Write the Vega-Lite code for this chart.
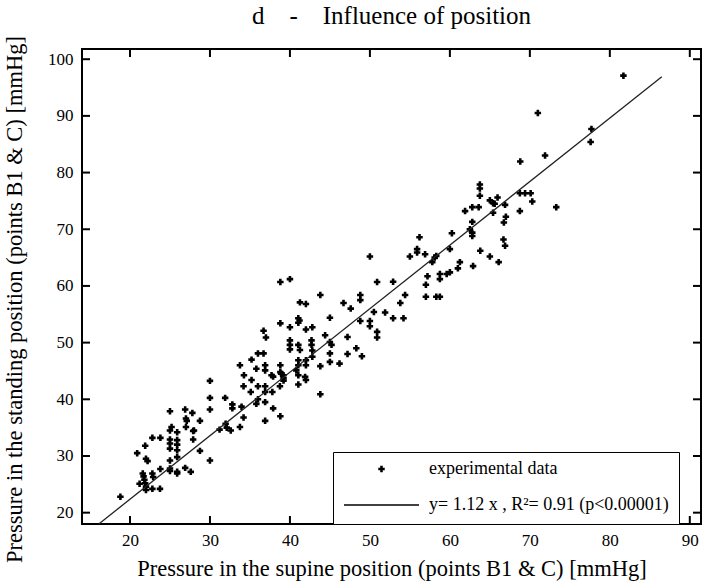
{
  "$schema": "https://vega.github.io/schema/vega-lite/v6.json",
  "width": 619,
  "height": 475,
  "autosize": "none",
  "padding": {"left": 82, "top": 49, "right": 7, "bottom": 57},
  "background": "white",
  "title": {"text": "d\u00a0\u00a0\u00a0\u00a0-\u00a0\u00a0\u00a0\u00a0Influence of position", "font": "Liberation Serif", "fontSize": 25, "fontWeight": "normal", "color": "black", "offset": 7, "anchor": "middle"},
  "config": {
    "view": {"stroke": "black", "strokeWidth": 2},
    "axis": {"domain": false, "grid": false, "ticks": false, "tickSize": 0, "offset": 0, "labelFont": "Liberation Serif", "labelFontSize": 17, "labelColor": "black", "titleFont": "Liberation Serif", "titleFontSize": 22.5, "titleFontWeight": "normal", "titleColor": "black"}
  },
  "datasets": {
    "points": [
      {"supine":18.8,"standing":22.8},{"supine":20.9,"standing":30.5},{"supine":21.9,"standing":31.8},{"supine":22.0,"standing":29.5},{"supine":22.2,"standing":29.1},{"supine":21.6,"standing":26.9},{"supine":21.7,"standing":26.4},{"supine":21.2,"standing":25.1},{"supine":21.9,"standing":25.2},{"supine":22.0,"standing":24.6},{"supine":22.0,"standing":24.0},{"supine":21.8,"standing":25.8},{"supine":22.8,"standing":33.2},{"supine":23.8,"standing":33.2},{"supine":22.8,"standing":26.9},{"supine":22.9,"standing":26.3},{"supine":22.8,"standing":24.2},{"supine":23.75,"standing":24.2},{"supine":23.8,"standing":27.7},{"supine":25.0,"standing":37.9},{"supine":25.0,"standing":34.5},{"supine":25.2,"standing":35.1},{"supine":25.0,"standing":32.9},{"supine":25.0,"standing":32.2},{"supine":25.0,"standing":31.3},{"supine":25.0,"standing":29.2},{"supine":25.0,"standing":27.8},{"supine":25.0,"standing":27.35},{"supine":25.9,"standing":34.2},{"supine":25.9,"standing":32.8},{"supine":25.9,"standing":32.0},{"supine":25.9,"standing":31.0},{"supine":25.9,"standing":29.8},{"supine":25.9,"standing":26.9},{"supine":25.9,"standing":27.2},{"supine":26.9,"standing":38.2},{"supine":27.0,"standing":36.6},{"supine":27.0,"standing":35.1},{"supine":27.1,"standing":36.2},{"supine":26.9,"standing":27.9},{"supine":27.6,"standing":27.2},{"supine":27.8,"standing":37.6},{"supine":27.9,"standing":34.4},{"supine":28.0,"standing":34.5},{"supine":27.9,"standing":32.9},{"supine":28.75,"standing":36.2},{"supine":28.75,"standing":30.9},{"supine":30.0,"standing":43.25},{"supine":30.0,"standing":40.25},{"supine":30.0,"standing":38.2},{"supine":30.0,"standing":29.2},{"supine":31.2,"standing":34.65},{"supine":31.9,"standing":40.25},{"supine":31.96,"standing":35.7},{"supine":32.1,"standing":35.0},{"supine":32.6,"standing":34.5},
      {"supine":50.0,"standing":65.2},{"supine":38.8,"standing":60.7},{"supine":40.0,"standing":61.2},{"supine":43.8,"standing":58.4},{"supine":48.8,"standing":58.4},{"supine":48.8,"standing":57.5},{"supine":50.9,"standing":60.7},{"supine":41.25,"standing":57.1},{"supine":42.0,"standing":56.8},{"supine":46.7,"standing":57.0},{"supine":47.6,"standing":56.0},{"supine":50.5,"standing":55.4},{"supine":38.8,"standing":53.4},{"supine":41.05,"standing":54.3},{"supine":41.05,"standing":53.5},{"supine":41.2,"standing":53.9},{"supine":40.0,"standing":52.7},{"supine":42.0,"standing":52.3},{"supine":42.8,"standing":52.7},{"supine":45.0,"standing":54.4},{"supine":48.8,"standing":53.8},{"supine":50.0,"standing":53.8},{"supine":50.0,"standing":52.9},{"supine":50.9,"standing":51.9},{"supine":50.9,"standing":50.9},{"supine":36.7,"standing":52.1},{"supine":37.0,"standing":50.9},{"supine":44.4,"standing":51.3},{"supine":40.0,"standing":50.4},{"supine":40.0,"standing":49.6},{"supine":40.0,"standing":48.8},{"supine":41.05,"standing":49.6},{"supine":41.25,"standing":48.7},{"supine":42.7,"standing":50.4},{"supine":42.7,"standing":49.6},{"supine":45.0,"standing":50.1},{"supine":45.2,"standing":49.6},{"supine":47.2,"standing":51.0},{"supine":48.3,"standing":49.0},{"supine":49.0,"standing":47.6},{"supine":45.0,"standing":48.1},{"supine":45.0,"standing":46.6},{"supine":46.2,"standing":46.3},{"supine":47.2,"standing":48.0},{"supine":43.8,"standing":45.85},{"supine":42.8,"standing":48.6},{"supine":42.8,"standing":47.5},{"supine":42.0,"standing":46.9},{"supine":42.0,"standing":46.0},{"supine":41.05,"standing":46.9},{"supine":41.05,"standing":46.0},{"supine":38.8,"standing":46.0},{"supine":38.8,"standing":44.8},{"supine":36.9,"standing":46.0},{"supine":36.9,"standing":45.1},{"supine":35.8,"standing":45.4},{"supine":35.2,"standing":47.0},{"supine":36.0,"standing":48.1},{"supine":36.7,"standing":48.1},{"supine":33.75,"standing":46.0},{"supine":34.25,"standing":44.25},{"supine":37.7,"standing":44.25},{"supine":37.9,"standing":44.0},{"supine":38.9,"standing":44.5},{"supine":39.2,"standing":44.25},{"supine":39.2,"standing":43.7},{"supine":39.2,"standing":43.3},{"supine":40.8,"standing":45.1},{"supine":41.05,"standing":44.25},{"supine":41.9,"standing":43.95},{"supine":42.0,"standing":43.4},{"supine":35.2,"standing":43.4},{"supine":34.2,"standing":42.3},{"supine":35.1,"standing":41.3},{"supine":36.0,"standing":42.3},{"supine":36.9,"standing":42.3},{"supine":36.9,"standing":41.3},{"supine":37.8,"standing":41.3},{"supine":38.75,"standing":42.3},{"supine":41.05,"standing":42.6},{"supine":43.8,"standing":40.9},{"supine":36.0,"standing":40.0},{"supine":35.8,"standing":39.2},{"supine":36.9,"standing":39.5},{"supine":37.9,"standing":38.4},{"supine":38.8,"standing":37.0},{"supine":36.9,"standing":36.2},{"supine":33.95,"standing":38.7},{"supine":34.2,"standing":36.8},{"supine":33.75,"standing":35.1},{"supine":32.8,"standing":39.1},{"supine":32.8,"standing":38.4},
      {"supine":68.8,"standing":81.95},{"supine":71.9,"standing":83.0},{"supine":73.3,"standing":73.9},{"supine":63.75,"standing":77.9},{"supine":63.75,"standing":77.2},{"supine":63.75,"standing":75.9},{"supine":68.75,"standing":76.35},{"supine":69.4,"standing":76.35},{"supine":70.1,"standing":76.35},{"supine":70.3,"standing":74.9},{"supine":68.75,"standing":73.2},{"supine":65.96,"standing":75.6},{"supine":65.0,"standing":75.1},{"supine":65.4,"standing":74.6},{"supine":65.6,"standing":74.5},{"supine":65.4,"standing":72.9},{"supine":66.9,"standing":74.3},{"supine":67.0,"standing":72.2},{"supine":66.75,"standing":71.2},{"supine":61.9,"standing":73.2},{"supine":62.8,"standing":73.9},{"supine":63.6,"standing":73.9},{"supine":62.8,"standing":71.3},{"supine":62.5,"standing":70.0},{"supine":62.8,"standing":69.4},{"supine":62.8,"standing":68.8},{"supine":60.25,"standing":69.3},{"supine":66.7,"standing":68.2},{"supine":66.9,"standing":67.1},{"supine":63.8,"standing":66.2},{"supine":65.0,"standing":65.2},{"supine":66.1,"standing":64.2},{"supine":62.9,"standing":63.5},{"supine":56.2,"standing":68.6},{"supine":55.9,"standing":66.5},{"supine":55.9,"standing":65.9},{"supine":55.0,"standing":65.2},{"supine":56.9,"standing":65.6},{"supine":58.1,"standing":65.0},{"supine":58.3,"standing":65.3},{"supine":57.8,"standing":64.2},{"supine":60.0,"standing":66.5},{"supine":61.25,"standing":64.2},{"supine":61.0,"standing":63.1},{"supine":58.75,"standing":62.1},{"supine":59.6,"standing":62.1},{"supine":60.0,"standing":62.4},{"supine":58.75,"standing":61.2},{"supine":57.2,"standing":61.7},{"supine":57.0,"standing":60.2},{"supine":57.0,"standing":58.1},{"supine":58.3,"standing":58.1},{"supine":58.75,"standing":58.1},{"supine":54.4,"standing":58.4},{"supine":52.9,"standing":60.75},{"supine":53.8,"standing":57.0},{"supine":51.9,"standing":55.3},{"supine":52.9,"standing":54.3},{"supine":54.2,"standing":54.3},
      {"supine":81.7,"standing":97.1},{"supine":71.0,"standing":90.5},{"supine":77.7,"standing":87.7},{"supine":77.6,"standing":85.4}
    ],
    "fit": [
      {"supine": 16.1, "standing": 18.0},
      {"supine": 86.5, "standing": 96.9}
    ],
    "xticks": [{"v":20},{"v":30},{"v":40},{"v":50},{"v":60},{"v":70},{"v":80},{"v":90}],
    "yticks": [{"v":20},{"v":30},{"v":40},{"v":50},{"v":60},{"v":70},{"v":80},{"v":90},{"v":100}]
  },
  "layer": [
    {
      "data": {"name": "points"},
      "mark": {"type": "point", "filled": true, "color": "black", "opacity": 1},
      "encoding": {
        "x": {"field": "supine", "type": "quantitative", "scale": {"domain": [14, 91.4], "nice": false, "zero": false},
              "axis": {"orient": "bottom", "values": [20,30,40,50,60,70,80,90], "labelPadding": 8, "title": "Pressure in the supine position (points B1 & C) [mmHg]", "titlePadding": 9}},
        "y": {"field": "standing", "type": "quantitative", "scale": {"domain": [18, 101.8], "nice": false, "zero": false},
              "axis": {"orient": "left", "values": [20,30,40,50,60,70,80,90,100], "labelPadding": 9, "title": "Pressure in the standing position (points B1 & C) [mmHg]", "titlePadding": 21, "titleY": 250}},
        "shape": {"datum": "experimental data", "type": "nominal",
                  "scale": {"domain": ["experimental data", "y= 1.12 x , R²= 0.91 (p<0.00001)"], "range": ["cross", "M-1,-0.02H1V0.02H-1Z"]},
                  "legend": {"title": null, "orient": "none", "legendX": 251, "legendY": 403, "strokeColor": "black", "fillColor": "white", "padding": 10, "labelFont": "Liberation Serif", "labelFontSize": 18, "labelColor": "black", "labelLimit": 400, "labelOffset": 9, "clipHeight": 14, "rowPadding": 18,
                             "symbolFillColor": "black"}},
        "size": {"datum": "experimental data", "type": "nominal",
                 "scale": {"type": "ordinal", "domain": ["experimental data", "y= 1.12 x , R²= 0.91 (p<0.00001)"], "range": [42, 5625]},
                 "legend": {"title": null}}
      }
    },
    {
      "data": {"name": "fit"},
      "mark": {"type": "line", "color": "#222", "strokeWidth": 1.3},
      "encoding": {
        "x": {"field": "supine", "type": "quantitative", "axis": null},
        "y": {"field": "standing", "type": "quantitative", "axis": null}
      }
    },
    {
      "data": {"name": "xticks"},
      "mark": {"type": "tick", "orient": "vertical", "size": 8, "thickness": 2, "color": "black", "opacity": 1, "yOffset": -4},
      "encoding": {
        "x": {"field": "v", "type": "quantitative", "axis": null},
        "y": {"datum": 18, "type": "quantitative", "axis": null}
      }
    },
    {
      "data": {"name": "xticks"},
      "mark": {"type": "tick", "orient": "vertical", "size": 8, "thickness": 2, "color": "black", "opacity": 1, "yOffset": 4},
      "encoding": {
        "x": {"field": "v", "type": "quantitative", "axis": null},
        "y": {"datum": 101.8, "type": "quantitative", "axis": null}
      }
    },
    {
      "data": {"name": "yticks"},
      "mark": {"type": "tick", "orient": "horizontal", "size": 8, "thickness": 2, "color": "black", "opacity": 1, "xOffset": 4},
      "encoding": {
        "y": {"field": "v", "type": "quantitative", "axis": null},
        "x": {"datum": 14, "type": "quantitative", "axis": null}
      }
    },
    {
      "data": {"name": "yticks"},
      "mark": {"type": "tick", "orient": "horizontal", "size": 8, "thickness": 2, "color": "black", "opacity": 1, "xOffset": -4},
      "encoding": {
        "y": {"field": "v", "type": "quantitative", "axis": null},
        "x": {"datum": 91.4, "type": "quantitative", "axis": null}
      }
    }
  ],
  "resolve": {"axis": {"x": "independent", "y": "independent"}}
}
